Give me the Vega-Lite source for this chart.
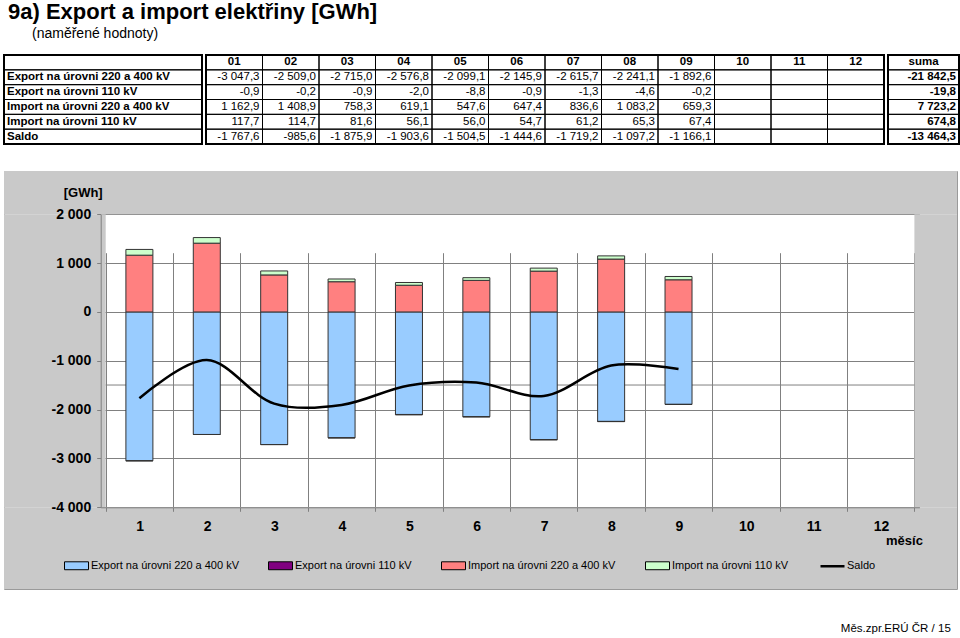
{
  "$schema": "https://vega.github.io/schema/vega-lite/v6.json",
  "padding": {"left": 2, "top": 0, "right": 3, "bottom": 0},
  "background": "white",
  "config": {
    "locale": {"number": {"decimal": ",", "thousands": " ", "grouping": [3], "currency": ["", ""], "minus": "-"}},
    "font": "Liberation Sans",
    "view": {"stroke": null}
  },
  "title": {
    "text": "9a) Export a import elektřiny [GWh]",
    "anchor": "start", "frame": "group",
    "font": "Liberation Sans", "fontSize": 22, "fontWeight": "bold", "color": "black",
    "dx": 4, "offset": 3
  },
  "datasets": {
    "tab": [
      {"r": "Export na úrovni 220 a 400 kV", "m": "01", "mo": 1, "v": -3047.3},
      {"r": "Export na úrovni 220 a 400 kV", "m": "02", "mo": 2, "v": -2509.0},
      {"r": "Export na úrovni 220 a 400 kV", "m": "03", "mo": 3, "v": -2715.0},
      {"r": "Export na úrovni 220 a 400 kV", "m": "04", "mo": 4, "v": -2576.8},
      {"r": "Export na úrovni 220 a 400 kV", "m": "05", "mo": 5, "v": -2099.1},
      {"r": "Export na úrovni 220 a 400 kV", "m": "06", "mo": 6, "v": -2145.9},
      {"r": "Export na úrovni 220 a 400 kV", "m": "07", "mo": 7, "v": -2615.7},
      {"r": "Export na úrovni 220 a 400 kV", "m": "08", "mo": 8, "v": -2241.1},
      {"r": "Export na úrovni 220 a 400 kV", "m": "09", "mo": 9, "v": -1892.6},
      {"r": "Export na úrovni 220 a 400 kV", "m": "10", "mo": 10, "v": null},
      {"r": "Export na úrovni 220 a 400 kV", "m": "11", "mo": 11, "v": null},
      {"r": "Export na úrovni 220 a 400 kV", "m": "12", "mo": 12, "v": null},
      {"r": "Export na úrovni 220 a 400 kV", "m": "suma", "mo": null, "v": -21842.5},
      {"r": "Export na úrovni 110 kV", "m": "01", "mo": 1, "v": -0.9},
      {"r": "Export na úrovni 110 kV", "m": "02", "mo": 2, "v": -0.2},
      {"r": "Export na úrovni 110 kV", "m": "03", "mo": 3, "v": -0.9},
      {"r": "Export na úrovni 110 kV", "m": "04", "mo": 4, "v": -2.0},
      {"r": "Export na úrovni 110 kV", "m": "05", "mo": 5, "v": -8.8},
      {"r": "Export na úrovni 110 kV", "m": "06", "mo": 6, "v": -0.9},
      {"r": "Export na úrovni 110 kV", "m": "07", "mo": 7, "v": -1.3},
      {"r": "Export na úrovni 110 kV", "m": "08", "mo": 8, "v": -4.6},
      {"r": "Export na úrovni 110 kV", "m": "09", "mo": 9, "v": -0.2},
      {"r": "Export na úrovni 110 kV", "m": "10", "mo": 10, "v": null},
      {"r": "Export na úrovni 110 kV", "m": "11", "mo": 11, "v": null},
      {"r": "Export na úrovni 110 kV", "m": "12", "mo": 12, "v": null},
      {"r": "Export na úrovni 110 kV", "m": "suma", "mo": null, "v": -19.8},
      {"r": "Import na úrovni 220 a 400 kV", "m": "01", "mo": 1, "v": 1162.9},
      {"r": "Import na úrovni 220 a 400 kV", "m": "02", "mo": 2, "v": 1408.9},
      {"r": "Import na úrovni 220 a 400 kV", "m": "03", "mo": 3, "v": 758.3},
      {"r": "Import na úrovni 220 a 400 kV", "m": "04", "mo": 4, "v": 619.1},
      {"r": "Import na úrovni 220 a 400 kV", "m": "05", "mo": 5, "v": 547.6},
      {"r": "Import na úrovni 220 a 400 kV", "m": "06", "mo": 6, "v": 647.4},
      {"r": "Import na úrovni 220 a 400 kV", "m": "07", "mo": 7, "v": 836.6},
      {"r": "Import na úrovni 220 a 400 kV", "m": "08", "mo": 8, "v": 1083.2},
      {"r": "Import na úrovni 220 a 400 kV", "m": "09", "mo": 9, "v": 659.3},
      {"r": "Import na úrovni 220 a 400 kV", "m": "10", "mo": 10, "v": null},
      {"r": "Import na úrovni 220 a 400 kV", "m": "11", "mo": 11, "v": null},
      {"r": "Import na úrovni 220 a 400 kV", "m": "12", "mo": 12, "v": null},
      {"r": "Import na úrovni 220 a 400 kV", "m": "suma", "mo": null, "v": 7723.2},
      {"r": "Import na úrovni 110 kV", "m": "01", "mo": 1, "v": 117.7},
      {"r": "Import na úrovni 110 kV", "m": "02", "mo": 2, "v": 114.7},
      {"r": "Import na úrovni 110 kV", "m": "03", "mo": 3, "v": 81.6},
      {"r": "Import na úrovni 110 kV", "m": "04", "mo": 4, "v": 56.1},
      {"r": "Import na úrovni 110 kV", "m": "05", "mo": 5, "v": 56.0},
      {"r": "Import na úrovni 110 kV", "m": "06", "mo": 6, "v": 54.7},
      {"r": "Import na úrovni 110 kV", "m": "07", "mo": 7, "v": 61.2},
      {"r": "Import na úrovni 110 kV", "m": "08", "mo": 8, "v": 65.3},
      {"r": "Import na úrovni 110 kV", "m": "09", "mo": 9, "v": 67.4},
      {"r": "Import na úrovni 110 kV", "m": "10", "mo": 10, "v": null},
      {"r": "Import na úrovni 110 kV", "m": "11", "mo": 11, "v": null},
      {"r": "Import na úrovni 110 kV", "m": "12", "mo": 12, "v": null},
      {"r": "Import na úrovni 110 kV", "m": "suma", "mo": null, "v": 674.8},
      {"r": "Saldo", "m": "01", "mo": 1, "v": -1767.6},
      {"r": "Saldo", "m": "02", "mo": 2, "v": -985.6},
      {"r": "Saldo", "m": "03", "mo": 3, "v": -1875.9},
      {"r": "Saldo", "m": "04", "mo": 4, "v": -1903.6},
      {"r": "Saldo", "m": "05", "mo": 5, "v": -1504.5},
      {"r": "Saldo", "m": "06", "mo": 6, "v": -1444.6},
      {"r": "Saldo", "m": "07", "mo": 7, "v": -1719.2},
      {"r": "Saldo", "m": "08", "mo": 8, "v": -1097.2},
      {"r": "Saldo", "m": "09", "mo": 9, "v": -1166.1},
      {"r": "Saldo", "m": "10", "mo": 10, "v": null},
      {"r": "Saldo", "m": "11", "mo": 11, "v": null},
      {"r": "Saldo", "m": "12", "mo": 12, "v": null},
      {"r": "Saldo", "m": "suma", "mo": null, "v": -13464.3}
    ]
  },
  "spacing": 24,
  "resolve": {"scale": {"color": "independent"}, "legend": {"color": "independent"}},
  "vconcat": [
    {
      "title": {"text": "(naměřené hodnoty)", "anchor": "start", "frame": "group", "dx": 28, "offset": 13,
                "font": "Liberation Sans", "fontSize": 14, "fontWeight": "normal", "color": "black"},
      "spacing": 0,
      "hconcat": [
        {
          "width": 198, "height": 89,
          "view": {"stroke": "black", "strokeWidth": 2},
          "data": {"name": "tab"},
          "transform": [{"filter": "datum.m === 'suma'"}],
          "encoding": {
            "y": {"field": "r", "type": "nominal", "axis": null,
                  "scale": {"domain": ["hdr", "Export na úrovni 220 a 400 kV", "Export na úrovni 110 kV", "Import na úrovni 220 a 400 kV", "Import na úrovni 110 kV", "Saldo"], "paddingInner": 0, "paddingOuter": 0}},
            "x": {"datum": "lab", "type": "nominal", "axis": null, "scale": {"paddingInner": 0, "paddingOuter": 0}}
          },
          "layer": [
            {"mark": {"type": "rect", "filled": false, "stroke": "black", "strokeWidth": 1}},
            {"transform": [{"filter": "datum.r === 'Saldo'"}],
             "mark": {"type": "rect", "filled": false, "stroke": "black", "strokeWidth": 1},
             "encoding": {"y": {"datum": "hdr", "type": "nominal"}}},
            {"mark": {"type": "text", "align": "left", "dx": 3, "fontWeight": "bold", "fontSize": 11.5, "color": "black"},
             "encoding": {"text": {"field": "r"}, "x": {"datum": "lab", "type": "nominal", "bandPosition": 0}}}
          ]
        },
        {
          "width": 678, "height": 89,
          "view": {"stroke": "black", "strokeWidth": 2},
          "data": {"name": "tab"},
          "transform": [{"filter": "datum.m !== 'suma'"}],
          "encoding": {
            "y": {"field": "r", "type": "nominal", "axis": null,
                  "scale": {"domain": ["hdr", "Export na úrovni 220 a 400 kV", "Export na úrovni 110 kV", "Import na úrovni 220 a 400 kV", "Import na úrovni 110 kV", "Saldo"], "paddingInner": 0, "paddingOuter": 0}},
            "x": {"field": "m", "type": "nominal", "axis": null,
                  "scale": {"domain": ["01", "02", "03", "04", "05", "06", "07", "08", "09", "10", "11", "12"], "paddingInner": 0, "paddingOuter": 0}}
          },
          "layer": [
            {"mark": {"type": "rect", "filled": false, "stroke": "black", "strokeWidth": 1}},
            {"transform": [{"filter": "datum.r === 'Saldo'"}],
             "mark": {"type": "rect", "filled": false, "stroke": "black", "strokeWidth": 1},
             "encoding": {"y": {"datum": "hdr", "type": "nominal"}}},
            {"transform": [{"filter": "isValid(datum.v)"}],
             "mark": {"type": "text", "align": "right", "dx": -3, "fontSize": 11.5, "color": "black"},
             "encoding": {"text": {"field": "v", "type": "quantitative", "format": ",.1f"},
                          "x": {"field": "m", "type": "nominal", "bandPosition": 1}}},
            {"transform": [{"filter": "datum.r === 'Saldo'"}],
             "mark": {"type": "text", "align": "center", "fontWeight": "bold", "fontSize": 11.5, "color": "black"},
             "encoding": {"text": {"field": "m"}, "y": {"datum": "hdr", "type": "nominal"}}}
          ]
        },
        {
          "width": 71, "height": 89,
          "view": {"stroke": "black", "strokeWidth": 2},
          "data": {"name": "tab"},
          "transform": [{"filter": "datum.m === 'suma'"}],
          "encoding": {
            "y": {"field": "r", "type": "nominal", "axis": null,
                  "scale": {"domain": ["hdr", "Export na úrovni 220 a 400 kV", "Export na úrovni 110 kV", "Import na úrovni 220 a 400 kV", "Import na úrovni 110 kV", "Saldo"], "paddingInner": 0, "paddingOuter": 0}},
            "x": {"field": "m", "type": "nominal", "axis": null, "scale": {"domain": ["suma"], "paddingInner": 0, "paddingOuter": 0}}
          },
          "layer": [
            {"mark": {"type": "rect", "filled": false, "stroke": "black", "strokeWidth": 1}},
            {"transform": [{"filter": "datum.r === 'Saldo'"}],
             "mark": {"type": "rect", "filled": false, "stroke": "black", "strokeWidth": 1},
             "encoding": {"y": {"datum": "hdr", "type": "nominal"}}},
            {"mark": {"type": "text", "align": "right", "dx": -3, "fontSize": 11.5, "fontWeight": "bold", "color": "black"},
             "encoding": {"text": {"field": "v", "type": "quantitative", "format": ",.1f"},
                          "x": {"field": "m", "type": "nominal", "bandPosition": 1}}},
            {"transform": [{"filter": "datum.r === 'Saldo'"}],
             "mark": {"type": "text", "align": "center", "fontWeight": "bold", "fontSize": 11.5, "color": "black"},
             "encoding": {"text": {"field": "m"}, "y": {"datum": "hdr", "type": "nominal"}}}
          ]
        }
      ]
    },
    {
      "width": 953, "height": 418,
      "view": {"fill": "white", "stroke": "#9a9a9a", "strokeWidth": 1},
      "resolve": {"axis": {"x": "independent", "y": "independent"}},
      "layer": [
        {"data": {"values": [{}]}, "mark": {"type": "rect", "color": "#c9c9c9", "strokeWidth": 0, "clip": true},
         "encoding": {"x": {"datum": -3, "type": "quantitative", "axis": null}, "x2": {"datum": 15},
                      "y": {"datum": 2000, "type": "quantitative", "axis": null}, "y2": {"datum": 5000}}},
        {"data": {"values": [{}]}, "mark": {"type": "rect", "color": "#c9c9c9", "strokeWidth": 0, "clip": true},
         "encoding": {"x": {"datum": -3, "type": "quantitative", "axis": null}, "x2": {"datum": 15},
                      "y": {"datum": -9000, "type": "quantitative", "axis": null}, "y2": {"datum": -4000}}},
        {"data": {"values": [{}]}, "mark": {"type": "rect", "color": "#c9c9c9", "strokeWidth": 0, "clip": true},
         "encoding": {"x": {"datum": -3, "type": "quantitative", "axis": null}, "x2": {"datum": 0.5},
                      "y": {"datum": -4000, "type": "quantitative", "axis": null}, "y2": {"datum": 2000}}},
        {"data": {"values": [{}]}, "mark": {"type": "rect", "color": "#c9c9c9", "strokeWidth": 0, "clip": true},
         "encoding": {"x": {"datum": 12.5, "type": "quantitative", "axis": null}, "x2": {"datum": 15},
                      "y": {"datum": -4000, "type": "quantitative", "axis": null}, "y2": {"datum": 2000}}},
        {"data": {"name": "tab"},
         "transform": [{"filter": "datum.r === 'Saldo' && datum.mo != null && isValid(datum.v)"},
                       {"aggregate": [{"op": "mean", "field": "v", "as": "avg"}]}],
         "mark": {"type": "rule", "color": "#808080", "strokeWidth": 1},
         "encoding": {"y": {"field": "avg", "type": "quantitative", "axis": null},
                      "x": {"datum": 0.5, "type": "quantitative", "axis": null}, "x2": {"datum": 12.5}}},
        {"data": {"name": "tab"},
         "transform": [{"filter": "datum.r !== 'Saldo' && datum.mo != null && isValid(datum.v)"},
                       {"calculate": "indexof(['Export na úrovni 220 a 400 kV', 'Export na úrovni 110 kV', 'Import na úrovni 220 a 400 kV', 'Import na úrovni 110 kV'], datum.r)", "as": "ord"}],
         "mark": {"type": "bar", "size": 27, "stroke": "#333333", "strokeWidth": 1},
         "encoding": {
           "x": {"field": "mo", "type": "quantitative",
                 "scale": {"domain": [0.5, 12.5], "range": [96.7, 915.4], "nice": false, "zero": false},
                 "axis": {"orient": "bottom", "values": [0.5, 1.5, 2.5, 3.5, 4.5, 5.5, 6.5, 7.5, 8.5, 9.5, 10.5, 11.5, 12.5],
                          "grid": true, "gridColor": "#808080", "gridOpacity": 1,
                          "labels": false, "ticks": false, "domain": false, "title": null, "zindex": 0}},
           "y": {"field": "v", "type": "quantitative", "stack": "zero",
                 "scale": {"domain": [-4000, 2000], "range": [336.3, 43.3], "nice": false, "zero": false},
                 "axis": {"orient": "left", "values": [-4000, -3000, -2000, -1000, 0, 1000, 2000], "grid": true, "gridColor": "#808080", "gridOpacity": 1,
                          "labels": false, "ticks": false, "domain": false, "title": null, "zindex": 0}},
           "color": {"field": "r", "type": "nominal",
                     "scale": {"domain": ["Export na úrovni 220 a 400 kV", "Export na úrovni 110 kV", "Import na úrovni 220 a 400 kV", "Import na úrovni 110 kV", "Saldo"],
                               "range": ["#99ccff", "#800080", "#ff8080", "#ccffcc", "#000000"]},
                     "legend": {"orient": "none", "legendX": 67, "legendY": 389, "direction": "horizontal", "columns": 5,
                                "columnPadding": 27, "title": null,
                                "symbolType": "M-1,-0.33H1V0.33H-1Z", "symbolSize": 576,
                                "symbolStrokeColor": "black", "symbolStrokeWidth": 1, "symbolOpacity": 1,
                                "labelFont": "Liberation Sans", "labelFontSize": 11, "labelColor": "black", "labelOffset": 9,
                                "encode": {"symbols": {"update": {
                                  "shape": {"signal": "datum.value === 'Saldo' ? 'M-1,0H1' : 'M-1,-0.33H1V0.33H-1Z'"},
                                  "strokeWidth": {"signal": "datum.value === 'Saldo' ? 2.5 : 1"},
                                  "stroke": {"value": "black"}}}}}},
           "order": {"field": "ord", "type": "quantitative", "sort": "ascending"}
         }},
        {"data": {"name": "tab"},
         "transform": [{"filter": "datum.r === 'Saldo' && datum.mo != null && isValid(datum.v)"}],
         "mark": {"type": "line", "color": "black", "strokeWidth": 2.5, "interpolate": "catmull-rom"},
         "encoding": {
           "x": {"field": "mo", "type": "quantitative",
                 "axis": {"orient": "bottom", "offset": -81.7, "values": [0.5, 1.5, 2.5, 3.5, 4.5, 5.5, 6.5, 7.5, 8.5, 9.5, 10.5, 11.5, 12.5],
                          "labelExpr": "datum.value < 12 ? format(datum.value + 0.5, 'd') : ''",
                          "labelOffset": 34, "labelFontSize": 14, "labelFontWeight": "bold", "labelColor": "black",
                          "labelPadding": 8, "labelFlush": false, "labelOverlap": false, "labelBound": false,
                          "grid": false, "domainColor": "#808080", "tickColor": "#808080", "tickSize": 4,
                          "title": "měsíc", "titleX": 900, "titleY": 33, "titleAlign": "center", "titleBaseline": "middle",
                          "titleFontSize": 13, "titleFontWeight": "bold", "titleColor": "black", "zindex": 1}},
           "y": {"field": "v", "type": "quantitative",
                 "axis": {"orient": "left", "offset": -96.7, "values": [-4000, -3000, -2000, -1000, 0, 1000, 2000], "grid": false, "format": ",d",
                          "labelFontSize": 14, "labelFontWeight": "bold", "labelColor": "black", "labelPadding": 6,
                          "tickSize": 4, "tickColor": "#808080", "domainColor": "#808080",
                          "title": "[GWh]", "titleAngle": 0, "titleX": -18, "titleY": 21, "titleAlign": "center",
                          "titleBaseline": "middle", "titleFontSize": 13, "titleFontWeight": "bold", "titleColor": "black",
                          "zindex": 1}}
         }},
        {"data": {"values": [{}]},
         "mark": {"type": "text", "text": "Měs.zpr.ERÚ ČR / 15", "align": "right", "baseline": "middle",
                  "font": "Liberation Sans", "fontSize": 11.5, "color": "black"},
         "encoding": {"x": {"datum": 13.04, "type": "quantitative", "axis": null},
                      "y": {"datum": -6492, "type": "quantitative", "axis": null}}}
      ]
    }
  ]
}
